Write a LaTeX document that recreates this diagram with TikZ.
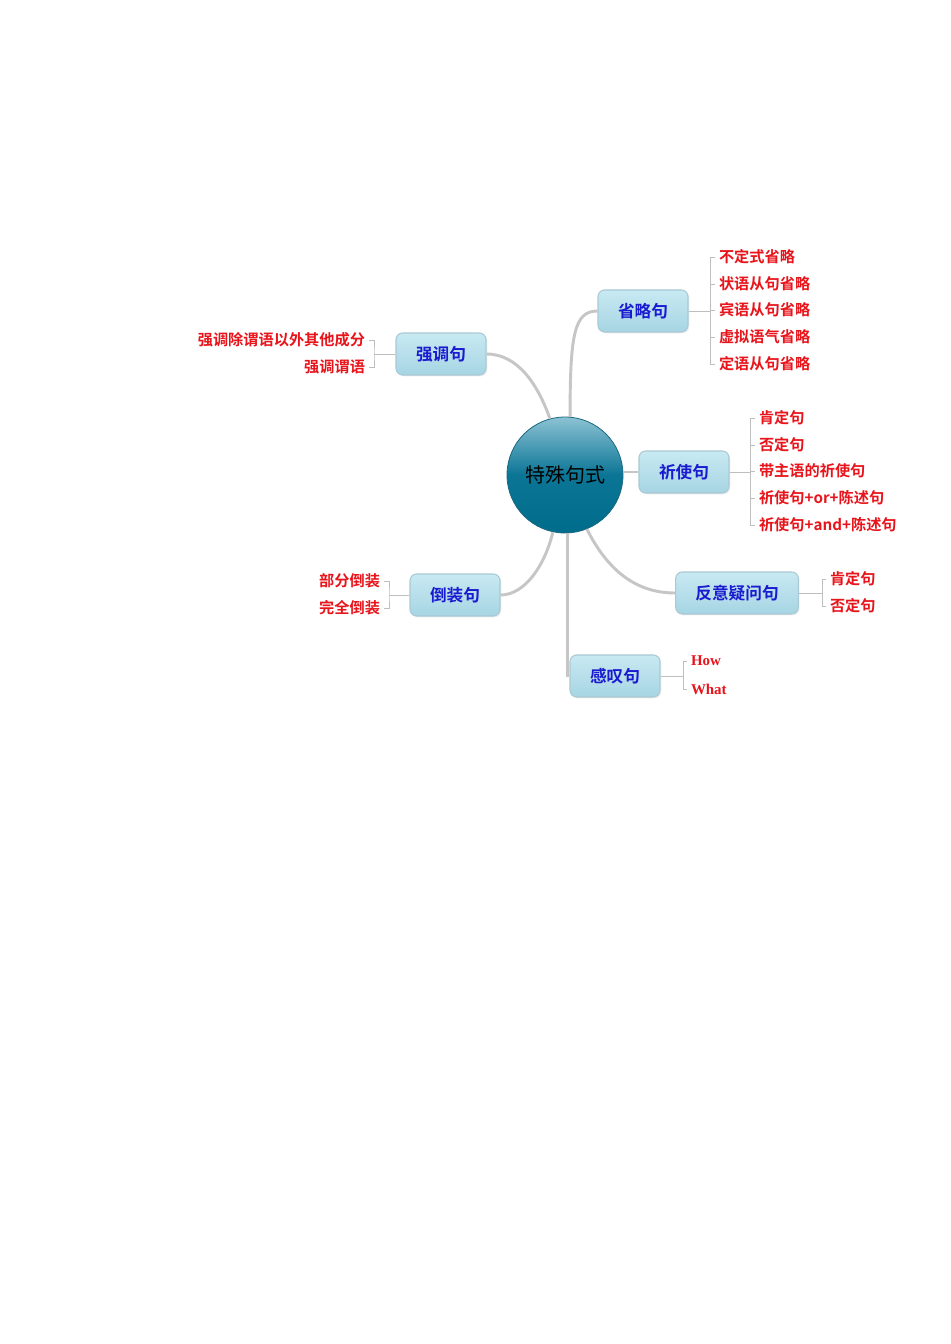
\documentclass[tikz,border=0pt]{standalone}
\usepackage{fontspec}
\newfontfamily\cjk{Noto Sans CJK SC}[BoldFont={Noto Sans CJK SC Bold}]
\newfontfamily\serifb{Liberation Serif}
\usetikzlibrary{shadows}
\definecolor{leafred}{HTML}{E8141B}
\definecolor{boxblue}{HTML}{1A1AD0}
\definecolor{linegray}{HTML}{C6C6C6}
\definecolor{brgray}{HTML}{BEBEBE}
\definecolor{boxtop}{HTML}{C8E9F2}
\definecolor{boxbot}{HTML}{A6D5E3}
\definecolor{boxedge}{HTML}{A9C9D5}
\definecolor{circtop}{HTML}{8CC2D3}
\definecolor{circmid}{HTML}{0B7596}
\definecolor{circbot}{HTML}{006C8B}
\definecolor{circedge}{HTML}{1A6A82}
\begin{document}
\begin{tikzpicture}[x=0.75pt,y=-0.75pt,
  topic/.style={draw=boxedge, line width=0.8pt, rounded corners=5pt,
    top color=boxtop, bottom color=boxbot, minimum width=67.5pt,
    minimum height=31.5pt, inner sep=2pt,
    font=\cjk\bfseries\fontsize{12.5}{14}\selectfont, text=boxblue,
    drop shadow={opacity=0.12, shadow xshift=1pt, shadow yshift=-1pt}},
  leafr/.style={inner sep=0pt, outer xsep=3pt, anchor=west, text=leafred,
    font=\cjk\bfseries\fontsize{11.4}{13}\selectfont},
  leafl/.style={leafr, anchor=east},
  leafs/.style={leafr, font=\serifb\bfseries\fontsize{11.2}{13}\selectfont},
  branch/.style={draw=linegray, line width=2.2pt},
  br/.style={draw=brgray, line width=0.65pt}]
\useasboundingbox (0,0) rectangle (950,1344);
\fill[white] (0,0) rectangle (950,1344);

% centre
\node[circle, minimum size=87pt, draw=circedge, line width=0.6pt,
  top color=circtop, bottom color=circbot, middle color=circmid,
  font=\cjk\fontsize{15}{18}\selectfont, text=black] (c) at (565,475) {特殊句式};

% topics
\node[topic] (s) at (643,311) {省略句};
\node[topic] (q) at (441,354) {强调句};
\node[topic] (y) at (684,472) {祈使句};
\node[topic] (d) at (455,595) {倒装句};
\node[topic, minimum width=92pt] (f) at (737,593) {反意疑问句};
\node[topic] (g) at (615,676) {感叹句};

% branches
\draw[branch] (c.85) .. controls (570,335) and (574,311) .. (s.west);
\draw[branch] (c.105) .. controls (538,385) and (518,354) .. (q.east);
\draw[branch] (c.east |- y.west) -- (y.west);
\draw[branch] (c.258) .. controls (545,565) and (525,595) .. (d.east);
\draw[branch] (c.292) .. controls (610,575) and (640,593) .. (f.west);
\draw[branch] (c.272) |- (g.west);

% leaves of 省略句
\node[leafr] (s1) at (715,257) {不定式省略};
\node[leafr] (s2) at (715,284) {状语从句省略};
\node[leafr] (s3) at (715,310) {宾语从句省略};
\node[leafr] (s4) at (715,337) {虚拟语气省略};
\node[leafr] (s5) at (715,364) {定语从句省略};
\coordinate (sb) at (710,311);
\draw[br] (s.east) -- (sb);
\draw[br] (s1.west) -| (sb) |- (s5.west);
\foreach \k in {s2,s3,s4} \draw[br] (sb |- \k.west) -- (\k.west);

% leaves of 祈使句
\node[leafr] (y1) at (755,418) {肯定句};
\node[leafr] (y2) at (755,445) {否定句};
\node[leafr] (y3) at (755,471) {带主语的祈使句};
\node[leafr] (y4) at (755,498) {祈使句+or+陈述句};
\node[leafr] (y5) at (755,525) {祈使句+and+陈述句};
\coordinate (yb) at (750,472);
\draw[br] (y.east) -- (yb);
\draw[br] (y1.west) -| (yb) |- (y5.west);
\foreach \k in {y2,y3,y4} \draw[br] (yb |- \k.west) -- (\k.west);

% leaves of 强调句
\node[leafl] (q1) at (369,340) {强调除谓语以外其他成分};
\node[leafl] (q2) at (369,367) {强调谓语};
\coordinate (qb) at (374,354);
\draw[br] (q.west) -- (qb);
\draw[br] (q1.east) -| (qb) |- (q2.east);

% leaves of 倒装句
\node[leafl] (d1) at (384,581) {部分倒装};
\node[leafl] (d2) at (384,608) {完全倒装};
\coordinate (db) at (389,595);
\draw[br] (d.west) -- (db);
\draw[br] (d1.east) -| (db) |- (d2.east);

% leaves of 反意疑问句
\node[leafr] (f1) at (826,579) {肯定句};
\node[leafr] (f2) at (826,606) {否定句};
\coordinate (fb) at (822,593);
\draw[br] (f.east) -- (fb);
\draw[br] (f1.west) -| (fb) |- (f2.west);

% leaves of 感叹句
\node[leafs] (g1) at (687,661) {How};
\node[leafs] (g2) at (687,689) {What};
\coordinate (gb) at (683,676);
\draw[br] (g.east) -- (gb);
\draw[br] (g1.west) -| (gb) |- (g2.west);
\end{tikzpicture}
\end{document}
